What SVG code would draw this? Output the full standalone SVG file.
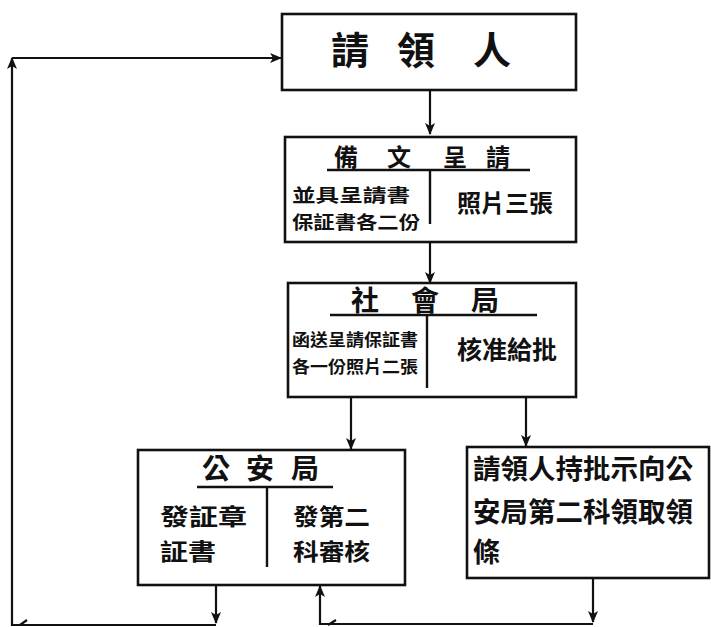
<svg xmlns="http://www.w3.org/2000/svg" width="711" height="627" viewBox="0 0 711 627">
<defs>
<style>
.box{fill:#fff;stroke:#111;stroke-width:2.6}
.ln{fill:none;stroke:#111;stroke-width:2.4}
.c{fill:none;stroke:#111;stroke-width:2.2}
text{font-family:"Noto Sans CJK TC","Noto Sans CJK SC",sans-serif;fill:#111;font-weight:700}
.t{text-anchor:middle}
</style>
<marker id="ah" viewBox="0 0 12 10" refX="11" refY="5" markerWidth="12" markerHeight="10" markerUnits="userSpaceOnUse" orient="auto">
<path d="M0,0 L12,5 L0,10 L3,5 Z" fill="#111"/>
</marker>
</defs>
<rect width="711" height="627" fill="#fff"/>
<g id="connectors">
<path class="c" d="M430,90 V134" marker-end="url(#ah)"/>
<path class="c" d="M430,242 V283" marker-end="url(#ah)"/>
<path class="c" d="M351,397 V449" marker-end="url(#ah)"/>
<path class="c" d="M526,397 V446" marker-end="url(#ah)"/>
<path class="c" d="M216,585 V623" marker-end="url(#ah)"/>
<path class="c" d="M593,578 V622" marker-end="url(#ah)"/>
<path class="c" d="M593,624 H320 V586" marker-end="url(#ah)"/>
<path class="c" d="M216,625 H12 V58" marker-end="url(#ah)"/>
<path class="c" d="M12,58 H281" marker-end="url(#ah)"/>
<path class="c" d="M20,625 L27,620 M328,625 L336,620"/>
</g>
<g id="n1">
<rect class="box" x="282" y="14" width="294" height="76"/>
<text font-size="38" class="t" y="64"><tspan x="350">請</tspan><tspan x="416">領</tspan><tspan x="492">人</tspan></text>
</g>
<g id="n2">
<rect class="box" x="285" y="137" width="291" height="105"/>
<path class="ln" d="M327,170 H530 M430,170 V224"/>
<text font-size="24" class="t" y="166"><tspan x="346">備</tspan><tspan x="399">文</tspan><tspan x="455">呈</tspan><tspan x="498">請</tspan></text>
<text font-size="18" x="292" y="202" textLength="118" lengthAdjust="spacingAndGlyphs">並具呈請書</text>
<text font-size="18" x="292" y="229" textLength="128" lengthAdjust="spacingAndGlyphs">保証書各二份</text>
<text font-size="24" x="457" y="212" textLength="96" lengthAdjust="spacingAndGlyphs">照片三張</text>
</g>
<g id="n3">
<rect class="box" x="288" y="283" width="288" height="114"/>
<path class="ln" d="M330,315 H537 M427,315 V388"/>
<text font-size="28" class="t" y="311"><tspan x="365">社</tspan><tspan x="425">會</tspan><tspan x="485">局</tspan></text>
<text font-size="17" x="292" y="346" textLength="126" lengthAdjust="spacingAndGlyphs" font-weight="400">函送呈請保証書</text>
<text font-size="17" x="292" y="373" textLength="126" lengthAdjust="spacingAndGlyphs" font-weight="400">各一份照片二張</text>
<text font-size="25" x="457" y="359" textLength="100" lengthAdjust="spacingAndGlyphs">核准給批</text>
</g>
<g id="n4">
<rect class="box" x="138" y="450" width="267" height="135"/>
<path class="ln" d="M197,487 H333 M267,487 V567"/>
<text font-size="28" class="t" y="479"><tspan x="216">公</tspan><tspan x="260">安</tspan><tspan x="305">局</tspan></text>
<text font-size="23" x="160" y="525" textLength="87" lengthAdjust="spacingAndGlyphs">發証章</text>
<text font-size="23" x="160" y="560" textLength="56" lengthAdjust="spacingAndGlyphs">証書</text>
<text font-size="23" x="293" y="525" textLength="77" lengthAdjust="spacingAndGlyphs">發第二</text>
<text font-size="23" x="293" y="560" textLength="77" lengthAdjust="spacingAndGlyphs">科審核</text>
</g>
<g id="n5">
<rect class="box" x="467" y="447" width="242" height="131"/>
<text font-size="27" x="473" y="479" textLength="220" lengthAdjust="spacingAndGlyphs">請領人持批示向公</text>
<text font-size="27" x="473" y="522" textLength="220" lengthAdjust="spacingAndGlyphs">安局第二科領取領</text>
<text font-size="27" x="473" y="562">條</text>
</g>
</svg>
